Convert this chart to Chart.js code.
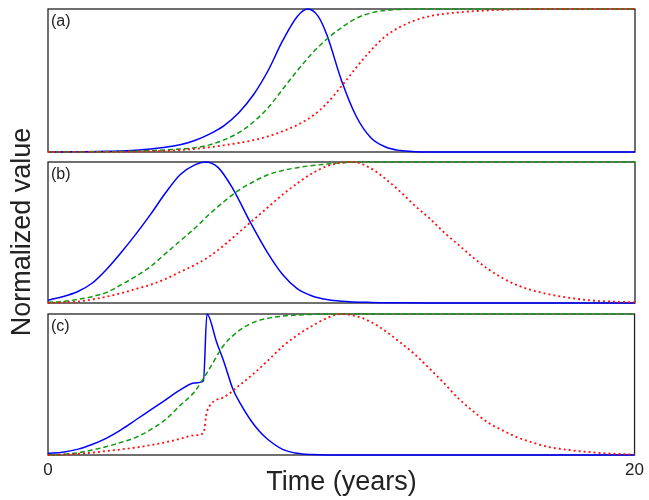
<!DOCTYPE html>
<html>
<head>
<meta charset="utf-8">
<script src="https://cdn.jsdelivr.net/npm/chart.js@4/dist/chart.umd.min.js"></script>
<style>
  body { margin: 0; background: #fff; }
  #wrap { position: relative; width: 649px; height: 500px; font-family: "Liberation Sans", Arial, sans-serif; color: #222; }
  #wrap canvas { position: absolute; left: 0; top: 0; }
  .tag { position: absolute; font-size: 16px; line-height: 16px; }
  #xtitle { position: absolute; left: 0; width: 683px; top: 466px; text-align: center; font-size: 27px; line-height: 30px; }
  #ytitle { position: absolute; left: -119px; top: 217px; width: 280px; text-align: center; font-size: 27px; line-height: 30px; transform: rotate(-90deg); }
</style>
</head>
<body>
<div id="wrap">
  <canvas id="panelA" width="649" height="500"></canvas>
  <canvas id="panelB" width="649" height="500"></canvas>
  <canvas id="panelC" width="649" height="500"></canvas>
  <div class="tag" style="left:51px;top:13px">(a)</div>
  <div class="tag" style="left:51px;top:166px">(b)</div>
  <div class="tag" style="left:51px;top:318px">(c)</div>
  <div id="xtitle">Time (years)</div>
  <div id="ytitle">Normalized value</div>
</div>
<script>
// x axis range and tick labels (years)
const xTicks = [0, 20];

// PANEL (a)
const aBlueT = [0, 1, 2, 3, 4, 4.5, 5, 5.5, 6, 6.5, 7, 7.5, 8, 8.5, 8.85, 9.2, 9.5, 10, 10.5, 11, 11.5, 12, 12.5, 13, 20];
const aBlue  = [0, 0.002, 0.005, 0.012, 0.033, 0.05, 0.08, 0.125, 0.185, 0.275, 0.4, 0.57, 0.78, 0.95, 1.0, 0.95, 0.82, 0.5, 0.25, 0.1, 0.035, 0.01, 0.002, 0, 0];
const aGreenT = [0, 2, 3, 4, 5, 5.5, 6, 6.5, 7, 7.5, 8, 8.5, 9, 9.5, 10, 10.5, 11, 11.5, 12, 13, 20];
const aGreen  = [0, 0.002, 0.006, 0.015, 0.03, 0.05, 0.085, 0.135, 0.21, 0.31, 0.44, 0.57, 0.69, 0.79, 0.87, 0.935, 0.972, 0.99, 0.997, 1, 1];
const aRedT = [0, 2, 3, 4, 5, 5.5, 6, 6.5, 7, 7.5, 8, 8.5, 9, 9.5, 10, 10.5, 11, 11.5, 12, 12.5, 13, 14, 15, 16, 17, 20];
const aRed  = [0, 0.001, 0.003, 0.008, 0.022, 0.033, 0.047, 0.063, 0.083, 0.11, 0.145, 0.19, 0.25, 0.34, 0.46, 0.59, 0.71, 0.81, 0.875, 0.92, 0.95, 0.977, 0.99, 0.998, 1, 1];

// PANEL (b)
const bBlueT = [0, 0.5, 1, 1.5, 2, 2.5, 3, 3.5, 4, 4.5, 5, 5.35, 5.8, 6.3, 6.9, 7.5, 8, 8.5, 9, 9.5, 10, 11, 12, 13, 20];
const bBlue  = [0.02, 0.045, 0.08, 0.14, 0.24, 0.36, 0.49, 0.63, 0.78, 0.91, 0.98, 1.0, 0.96, 0.81, 0.57, 0.35, 0.2, 0.1, 0.05, 0.025, 0.013, 0.004, 0.001, 0, 0];
const bGreenT = [0, 0.5, 1, 1.5, 2, 2.5, 3, 3.5, 4, 4.5, 5, 5.5, 6, 6.5, 7, 7.5, 8, 8.5, 9, 9.5, 10, 11, 20];
const bGreen  = [0.005, 0.01, 0.025, 0.045, 0.075, 0.13, 0.19, 0.26, 0.35, 0.44, 0.53, 0.63, 0.72, 0.8, 0.86, 0.91, 0.94, 0.96, 0.975, 0.985, 0.995, 1, 1];
const bRedT = [0, 1, 1.5, 2, 2.5, 3, 3.5, 4, 4.5, 5, 5.5, 6, 6.5, 7, 7.5, 8, 8.5, 9, 9.5, 10, 10.4, 11, 11.5, 12, 12.5, 13, 13.5, 14, 14.5, 15, 15.5, 16, 16.5, 17, 17.5, 18, 18.5, 19, 19.5, 20];
const bRed  = [0, 0.01, 0.025, 0.045, 0.07, 0.1, 0.13, 0.17, 0.22, 0.27, 0.33, 0.41, 0.5, 0.59, 0.68, 0.77, 0.85, 0.92, 0.97, 0.995, 1.0, 0.955, 0.88, 0.79, 0.69, 0.6, 0.5, 0.41, 0.32, 0.24, 0.175, 0.125, 0.09, 0.065, 0.045, 0.03, 0.018, 0.012, 0.008, 0.005];

// PANEL (c)
const cBlueT = [0, 0.5, 1, 1.5, 2, 2.5, 3, 3.5, 4, 4.5, 5, 5.3, 5.42, 5.75, 6, 6.3, 6.6, 6.9, 7.2, 7.5, 8, 8.5, 9, 9.5, 20];
const cBlue  = [0.012, 0.02, 0.04, 0.075, 0.12, 0.18, 0.25, 0.32, 0.39, 0.46, 0.51, 0.525, 1.0, 0.8, 0.66, 0.47, 0.35, 0.25, 0.17, 0.11, 0.04, 0.012, 0.003, 0, 0];
const cGreenT = [0, 0.5, 1, 1.5, 2, 2.5, 3, 3.5, 4, 4.5, 5, 5.5, 6, 6.5, 7, 7.5, 8, 8.5, 9, 10, 20];
const cGreen  = [0, 0.005, 0.015, 0.035, 0.06, 0.09, 0.125, 0.18, 0.25, 0.35, 0.45, 0.61, 0.78, 0.88, 0.94, 0.97, 0.985, 0.993, 0.997, 1, 1];
const cRedT = [0, 0.5, 1, 1.5, 2, 2.5, 3, 3.5, 4, 4.5, 5, 5.3, 5.42, 6, 6.5, 7, 7.5, 8, 8.5, 9, 9.5, 10, 10.5, 11, 11.5, 12, 12.5, 13, 13.5, 14, 14.5, 15, 15.5, 16, 16.5, 17, 17.5, 18, 18.5, 19, 19.5, 20];
const cRed  = [0, 0.003, 0.008, 0.017, 0.028, 0.04, 0.053, 0.07, 0.09, 0.115, 0.14, 0.155, 0.31, 0.41, 0.49, 0.575, 0.67, 0.77, 0.85, 0.915, 0.97, 1.0, 0.985, 0.945, 0.88, 0.8, 0.715, 0.615, 0.51, 0.4, 0.31, 0.23, 0.175, 0.125, 0.09, 0.06, 0.042, 0.03, 0.02, 0.012, 0.007, 0.004];

const BLUE = "#0000ff";
const GREEN = "#119a11";
const RED = "#ff1010";

function pts(t, v) {
  return t.map((x, i) => ({ x: x, y: v[i] }));
}

function line(t, v, color, dash, width) {
  return {
    data: pts(t, v),
    borderColor: color,
    borderWidth: width,
    borderDash: dash,
    pointRadius: 0,
    cubicInterpolationMode: "monotone",
    clip: 3,
    fill: false
  };
}

// draws the box around each panel
const frame = {
  id: "frame",
  beforeDatasetsDraw(chart) {
    const a = chart.chartArea;
    const ctx = chart.ctx;
    ctx.save();
    ctx.strokeStyle = "#222";
    ctx.lineWidth = 1.3;
    ctx.strokeRect(a.left, a.top, a.right - a.left, a.bottom - a.top);
    ctx.restore();
  }
};

function makePanel(id, datasets, top, bottom, showX) {
  new Chart(document.getElementById(id), {
    type: "line",
    data: { datasets: datasets },
    plugins: [frame],
    options: {
      responsive: false,
      animation: false,
      layout: { padding: { left: 48, right: 14, top: top, bottom: bottom } },
      plugins: { legend: { display: false }, tooltip: { enabled: false } },
      scales: {
        x: {
          type: "linear",
          min: xTicks[0],
          max: xTicks[1],
          display: showX,
          grid: { display: false, drawTicks: false },
          border: { display: false },
          afterBuildTicks: s => { s.ticks = xTicks.map(v => ({ value: v })); },
          afterFit: s => { s.height = showX ? 45 : 0; },
          ticks: {
            color: "#222",
            padding: 5,
            autoSkip: false,
            maxRotation: 0,
            font: { family: "Liberation Sans", size: 17 }
          }
        },
        y: { min: 0, max: 1, display: false }
      }
    }
  });
}

makePanel("panelA", [
  line(aRedT, aRed, RED, [2, 3], 1.8),
  line(aGreenT, aGreen, GREEN, [5, 3], 1.5),
  line(aBlueT, aBlue, BLUE, [], 1.5)
], 9, 348, false);

makePanel("panelB", [
  line(bRedT, bRed, RED, [2, 3], 1.8),
  line(bGreenT, bGreen, GREEN, [5, 3], 1.5),
  line(bBlueT, bBlue, BLUE, [], 1.5)
], 162, 197, false);

makePanel("panelC", [
  line(cRedT, cRed, RED, [2, 3], 1.8),
  line(cGreenT, cGreen, GREEN, [5, 3], 1.5),
  line(cBlueT, cBlue, BLUE, [], 1.5)
], 314, 0, true);
</script>
</body>
</html>
